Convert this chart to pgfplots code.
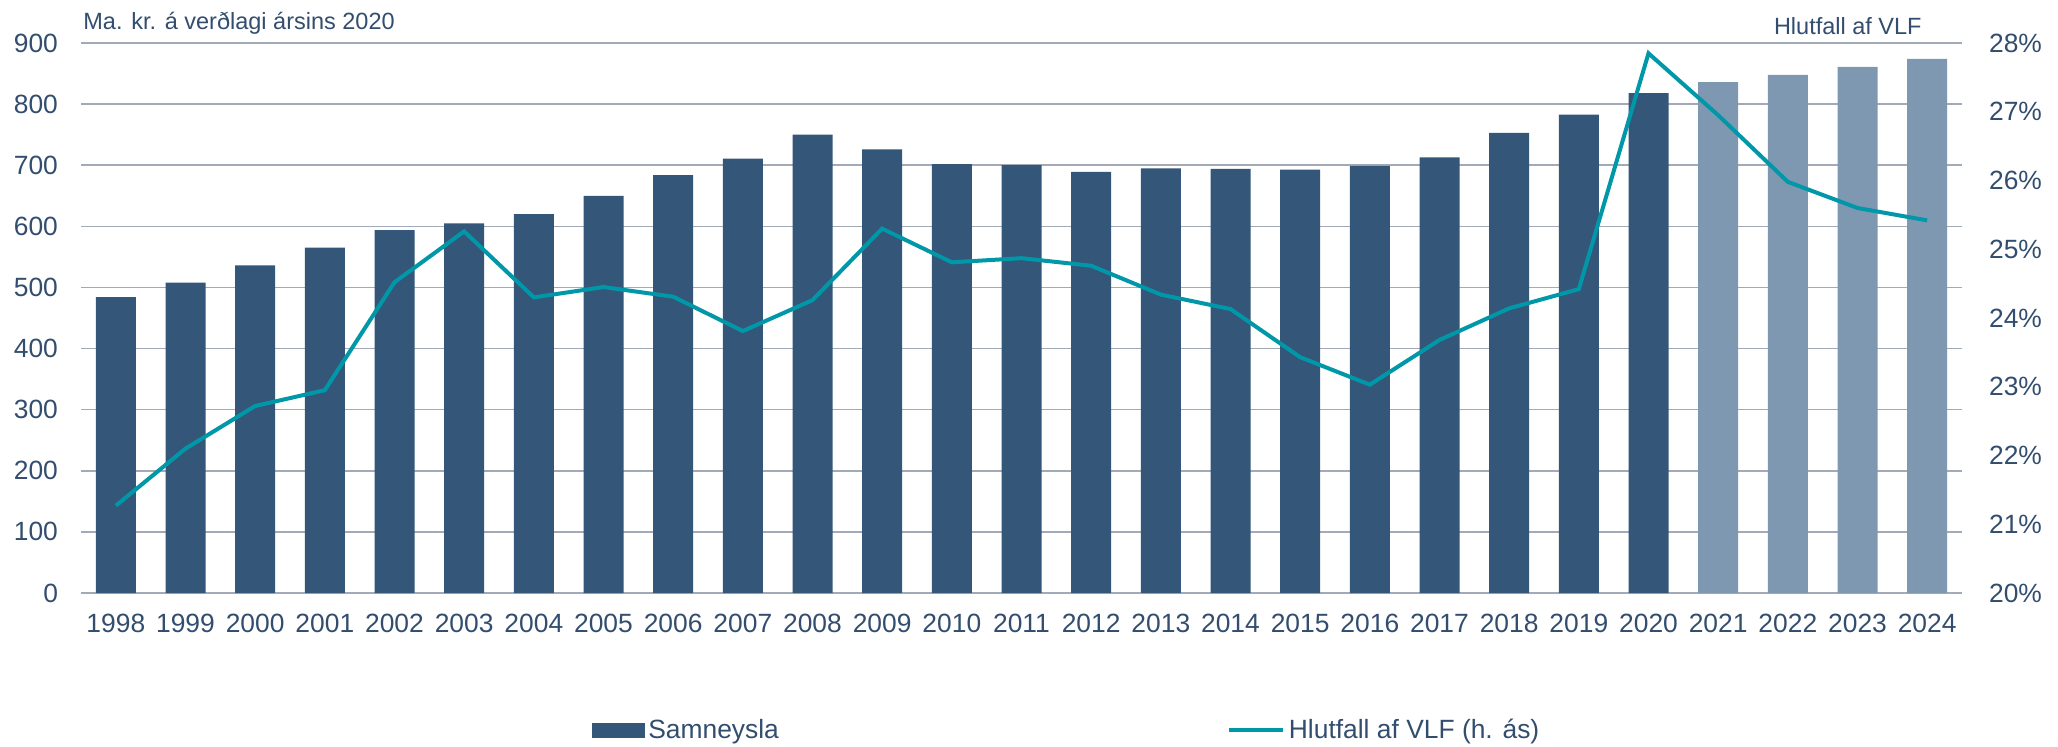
\documentclass[border=0pt]{standalone}
\usepackage{pgfplots}
\pgfplotsset{compat=1.18}
\usepackage{pgfplotstable}
\usepackage{fontspec}
\setmainfont{Liberation Sans}

\definecolor{barDark}{HTML}{335679}
\definecolor{barLight}{HTML}{7F98B2}
\definecolor{lineTeal}{HTML}{0098A8}
\definecolor{txt}{HTML}{324D6E}
\definecolor{gridc}{HTML}{A3AAB7}

% year index, Samneysla (ma. kr.), hlutfall af VLF (%)
\pgfplotstableread{
idx val share
0  484 21.27
1  508 22.10
2  536 22.72
3  565 22.95
4  594 24.52
5  605 25.26
6  620 24.30
7  650 24.45
8  684 24.31
9  711 23.81
10 750 24.26
11 726 25.30
12 702 24.81
13 700 24.87
14 689 24.76
15 695 24.34
16 694 24.13
17 693 23.43
18 699 23.03
19 713 23.68
20 753 24.14
21 783 24.42
22 818 27.85
23 836 26.95
24 848 25.98
25 861 25.60
26 874 25.42
}\datatable

\pgfplotsset{
  base/.style={
    scale only axis,
    width=940.5pt, height=275pt,
    at={(40.5pt,76.5pt)}, anchor=south west,
    xmin=-0.5, xmax=26.5,
    major tick length=0pt,
    tick label style={font=\fontsize{13.2}{15}\selectfont, text=txt},
    /pgf/number format/assume math mode=true,
  },
}

\begin{document}
\begin{tikzpicture}
\useasboundingbox (0,0) rectangle (1029pt,373pt);

\begin{axis}[
  base,
  ymin=0, ymax=900,
  ytick={0,100,...,900},
  axis y line*=left,
  axis x line*=bottom,
  y axis line style={draw=none},
  x axis line style={draw=gridc, line width=1pt},
  ymajorgrids,
  grid style={draw=gridc, line width=0.8pt},
  yticklabel style={xshift=-8pt},
  xtick={0,...,26},
  xticklabels={1998,1999,2000,2001,2002,2003,2004,2005,2006,2007,2008,2009,2010,2011,2012,2013,2014,2015,2016,2017,2018,2019,2020,2021,2022,2023,2024},
  xticklabel style={yshift=-7pt},
  clip=false,
]
\addplot[ybar, bar width=20pt, bar shift=0pt, fill=barDark, draw=none]
  table[x=idx, y=val, restrict x to domain=0:22] {\datatable};
\addplot[ybar, bar width=20pt, bar shift=0pt, fill=barLight, draw=none]
  table[x=idx, y=val, restrict x to domain=23:26] {\datatable};
\node[anchor=base west, text=txt, font=\fontsize{11.75}{13}\selectfont, inner sep=0pt]
  at (rel axis cs:0,1) [yshift=7pt, xshift=1pt] {Ma. kr. á verðlagi ársins 2020};
\node[anchor=base east, text=txt, font=\fontsize{11.75}{13}\selectfont, inner sep=0pt]
  at (rel axis cs:1,1) [yshift=4.5pt, xshift=-20pt] {Hlutfall af VLF};
\end{axis}

\begin{axis}[
  base,
  ymin=20, ymax=28,
  ytick={20,21,...,28},
  yticklabel={\pgfmathprintnumber{\tick}\%},
  axis y line*=right,
  axis x line=none,
  y axis line style={draw=none},
  yticklabel style={xshift=10pt},
  legend columns=2,
  legend style={
    at={(rel axis cs:0.268,-0.249)}, anchor=west,
    draw=none, fill=none,
    font=\fontsize{13.2}{15}\selectfont, text=txt,
    /tikz/every even column/.append style={column sep=222pt},
  },
]
\addlegendimage{legend image code/.code={\fill[barDark] (0pt,-3.5pt) rectangle (26pt,3.5pt);}}
\addlegendentry{Samneysla}
\addplot[lineTeal, line width=2pt, mark=none,
  legend image code/.code={\draw[lineTeal, line width=2pt] (0pt,0pt) -- (27pt,0pt);}]
  table[x=idx, y=share] {\datatable};
\addlegendentry{Hlutfall af VLF (h. ás)}
\end{axis}
\end{tikzpicture}
\end{document}
